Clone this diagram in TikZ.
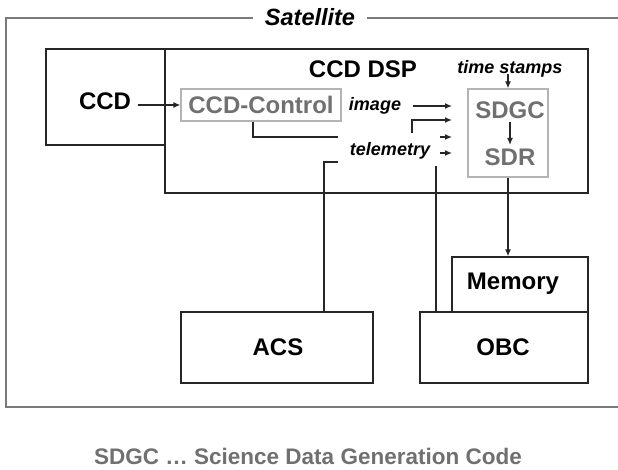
\documentclass[tikz,border=0pt]{standalone}
\usepackage{fontspec}
\setmainfont{Liberation Sans}
\usetikzlibrary{arrows.meta}
\definecolor{txtgray}{HTML}{707070}
\definecolor{boxgray}{HTML}{B4B4B4}
\definecolor{framegray}{HTML}{7A7A7A}
\begin{document}
\begin{tikzpicture}[x=1pt,y=-1pt,
  box/.style={draw=black!85,line width=1.3pt,inner sep=0pt},
  graybox/.style={draw=boxgray,line width=1.2pt,inner sep=0pt},
  big/.style={font=\fontsize{24}{26}\selectfont\bfseries},
  captiontext/.style={font=\fontsize{22.5}{24}\selectfont\bfseries},
  small/.style={font=\fontsize{18}{20}\selectfont\bfseries\itshape},
  wire/.style={draw=black!85,line width=1.3pt},
  arr/.style={wire,-{Latex[length=7pt,width=6pt]}}]
\useasboundingbox (0,0) rectangle (618,470);
% satellite frame
\node[font=\fontsize{23.5}{25}\selectfont\bfseries\itshape] (sat) at (310,17) {Satellite};
\coordinate (fl) at (253,18);
\coordinate (fr) at (367,18);
\draw[framegray,line width=1.8pt] (fl) -- (6,18) -- (6,407) -- (618,407);
\draw[framegray,line width=1.8pt] (fr) -- (618,18);
% boxes
\node[box,minimum width=119,minimum height=96] (ccd) at (105.5,97) {};
\node[big] (ccdt) at (105,101) {CCD};
\node[box,minimum width=423,minimum height=144] (dsp) at (376.5,121) {};
\node[big] (dspt) at (363,69) {CCD DSP};
\node[graybox,minimum width=160,minimum height=32] (ctrl) at (261,105) {};
\node[big,txtgray] (ctrlt) at (261,105) {CCD-Control};
\node[graybox,minimum width=80,minimum height=88] (sd) at (508,133) {};
\node[big,txtgray] (sdgc) at (510,110) {SDGC};
\node[big,txtgray] (sdr) at (510,157) {SDR};
\node[small] (ts) at (510,69) {time stamps};
\node[small] (img) at (375,106) {image};
\node[small] (tel) at (390,151) {telemetry};
\node[box,minimum width=136,minimum height=55] (mem) at (520,284.5) {};
\node[big] (memt) at (513,284) {Memory};
\node[box,minimum width=168,minimum height=71] (obc) at (504,347.5) {};
\node[big] (obct) at (503,347) {OBC};
\node[box,minimum width=192,minimum height=71] (acs) at (277,347.5) {};
\node[big] (acst) at (278,347) {ACS};
\node[captiontext,txtgray] (capt) at (308,456) {SDGC \ldots\ Science Data Generation Code};
% arrow end points
\coordinate (a1s) at (413,106); \coordinate (a1e) at (452,106);
\coordinate (a2s) at (412,133); \coordinate (a2e) at (452,120);
\coordinate (a3s) at (440,137); \coordinate (a3e) at (452,137);
\coordinate (a4s) at (440,153); \coordinate (a4e) at (452,153);
\coordinate (c1) at (338,137);
\coordinate (c2) at (338,162);
\coordinate (c3) at (436,166);
\coordinate (tsa) at (508,74);
% connectors
\draw[arr] (ccdt.east) ++(3,4) -- (ctrl.west |- 0,105);
\draw[arr] (a1s) -- (a1e);
\draw[arr] (a2s) |- (a2e);
\draw[arr] (a3s) -- (a3e);
\draw[arr] (a4s) -- (a4e);
\draw[wire] (ctrl.south -| 253,0) |- (c1);
\draw[wire] (c2) -| (acs.north -| 324,0);
\draw[wire] (c3) -- (obc.north -| 436,0);
\draw[arr] (sd.south -| 508,0) -- (mem.north -| 508,0);
\draw[arr] (tsa) -- (sd.north -| 508,0);
\draw[arr] (sdgc.south) -- (sdr.north);
\end{tikzpicture}
\end{document}
